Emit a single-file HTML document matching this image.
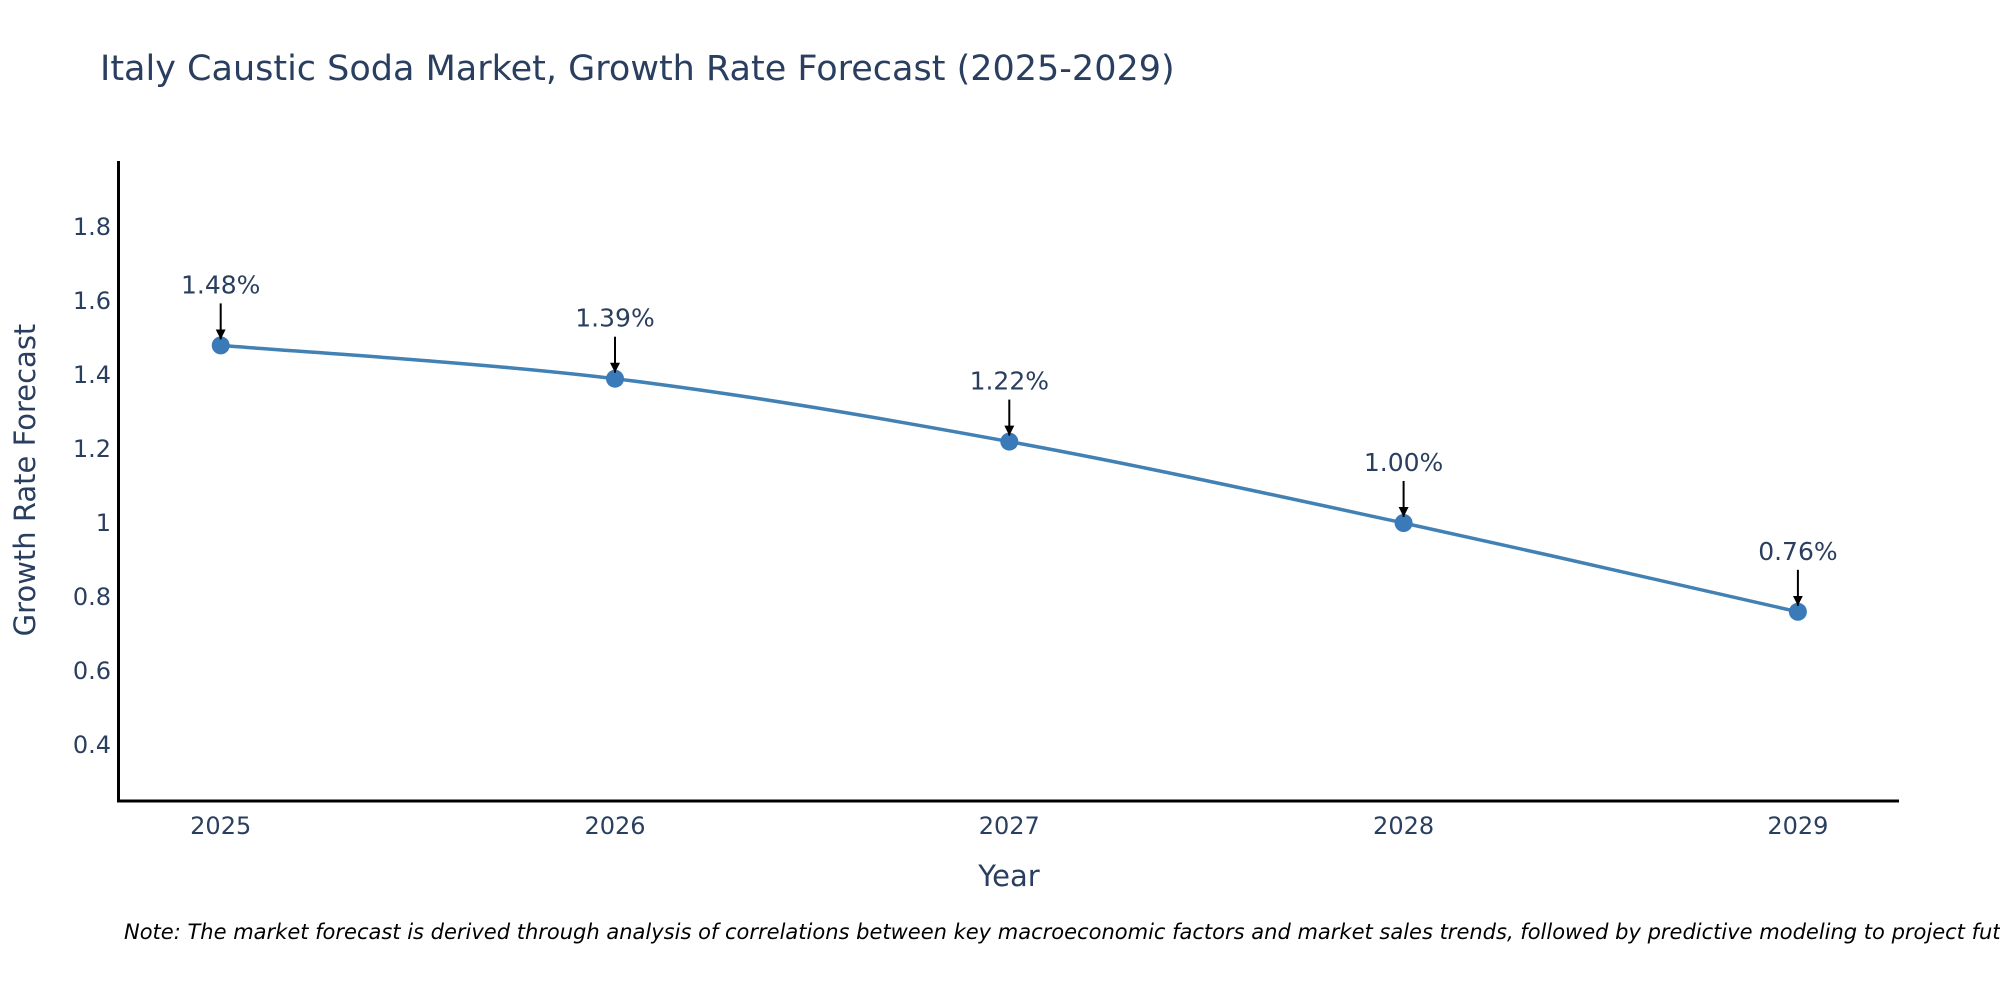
<!DOCTYPE html>
<html><head><meta charset="utf-8"><style>
html,body{margin:0;padding:0;background:#fff;overflow:hidden;}
svg{display:block;font-family:"DejaVu Sans","Liberation Sans",sans-serif;}
</style></head><body>
<svg id="chart" width="2000" height="1000" viewBox="0 0 2000 1000">
<defs><marker id="ah" viewBox="0 0 10 10" refX="10" refY="5" markerWidth="5" markerHeight="5" orient="auto"><path d="M0,0 L10,5 L0,10 z" fill="#000"/></marker></defs>
<text x="100" y="80" font-size="35" fill="#2a3f5f">Italy Caustic Soda Market, Growth Rate Forecast (2025-2029)</text>
<g id="yticks"></g>
<g id="xticks"></g>
<line x1="118.5" y1="161" x2="118.5" y2="802" stroke="#000" stroke-width="3"/>
<line x1="117" y1="801" x2="1899" y2="801" stroke="#000" stroke-width="3"/>
<g id="series"></g>
<g id="annots"></g>
<text transform="translate(35,480) rotate(-90)" text-anchor="middle" font-size="29" fill="#2a3f5f">Growth Rate Forecast</text>
<text x="1009" y="886" text-anchor="middle" font-size="29" fill="#2a3f5f">Year</text>
<text x="124" y="939" font-size="21" font-style="italic" fill="#000">Note: The market forecast is derived through analysis of correlations between key macroeconomic factors and market sales trends, followed by predictive modeling to project future sales.</text>
</svg>
<script>
const years = [2025, 2026, 2027, 2028, 2029];
const growth = [1.48, 1.39, 1.22, 1.00, 0.76];
const labels = ["1.48%", "1.39%", "1.22%", "1.00%", "0.76%"];
const yTickVals = [0.4, 0.6, 0.8, 1, 1.2, 1.4, 1.6, 1.8];
const yTickText = ["0.4", "0.6", "0.8", "1", "1.2", "1.4", "1.6", "1.8"];

const NS = "http://www.w3.org/2000/svg";
const xs = v => 220.7 + (v - 2025) * 394.3;
const ys = v => 745 - (v - 0.4) * 370;
function mk(tag, attrs, parent) {
  const e = document.createElementNS(NS, tag);
  for (const k in attrs) e.setAttribute(k, attrs[k]);
  parent.appendChild(e);
  return e;
}
const yt = document.getElementById('yticks');
yTickVals.forEach((v, i) => {
  const t = mk('text', {x: 111, y: ys(v) + 8, 'text-anchor': 'end', 'font-size': 24, fill: '#2a3f5f'}, yt);
  
  
  t.textContent = yTickText[i];
});
const xt = document.getElementById('xticks');
years.forEach(v => {
  const t = mk('text', {x: xs(v), y: 834, 'text-anchor': 'middle', 'font-size': 24, fill: '#2a3f5f'}, xt);
  
  
  t.textContent = v;
});
const pts = years.map((y, i) => [xs(y), ys(growth[i])]);
let d = `M${pts[0][0]},${pts[0][1]}`;
for (let i = 0; i < pts.length - 1; i++) {
  const p0 = pts[Math.max(0, i - 1)], p1 = pts[i], p2 = pts[i + 1], p3 = pts[Math.min(pts.length - 1, i + 2)];
  const c1 = [p1[0] + (p2[0] - p0[0]) / 6, p1[1] + (p2[1] - p0[1]) / 6];
  const c2 = [p2[0] - (p3[0] - p1[0]) / 6, p2[1] - (p3[1] - p1[1]) / 6];
  d += ` C${c1[0]},${c1[1]} ${c2[0]},${c2[1]} ${p2[0]},${p2[1]}`;
}
const s = document.getElementById('series');
const line = mk('path', {d: d, fill: 'none', stroke: '#4281b4', 'stroke-width': 3.5}, s);


const an = document.getElementById('annots');
pts.forEach((p, i) => {
  const c = mk('circle', {cx: p[0], cy: p[1], r: 9, fill: '#3a7ab8'}, s);
  
  
  const a = mk('line', {x1: p[0], y1: p[1] - 42, x2: p[0], y2: p[1] - 6, stroke: '#000', 'stroke-width': 2, 'marker-end': 'url(#ah)'}, an);
  
  
  const t = mk('text', {x: p[0], y: p[1] - 52, 'text-anchor': 'middle', 'font-size': 25, fill: '#2a3f5f'}, an);
  
  
  t.textContent = labels[i];
});
</script>
</body></html>
